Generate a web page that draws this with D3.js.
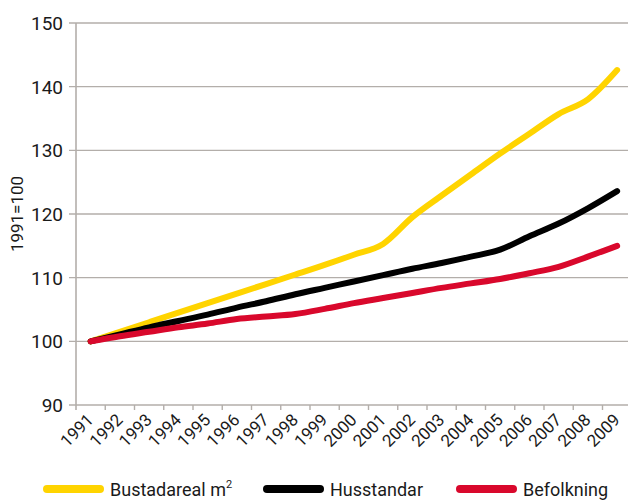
<!DOCTYPE html>
<html>
<head>
<meta charset="utf-8">
<script src="https://cdn.jsdelivr.net/npm/d3@7"></script>
<style>
  body { margin: 0; background: #fff; }
  svg { display: block; font-family: Roboto, "Liberation Sans", sans-serif; }
</style>
</head>
<body>
<svg id="chart" width="628" height="502"></svg>
<script>
const years = [1991, 1992, 1993, 1994, 1995, 1996, 1997, 1998, 1999, 2000,
               2001, 2002, 2003, 2004, 2005, 2006, 2007, 2008, 2009];
const bustadareal = [100, 101.5, 103.0, 104.5, 106.0, 107.5, 109.0, 110.5, 112.0, 113.6,
                     115.3, 119.5, 122.9, 126.2, 129.5, 132.6, 135.7, 138.0, 142.6];
const husstandar = [100, 101.1, 102.2, 103.2, 104.2, 105.3, 106.3, 107.4, 108.4, 109.4,
                    110.4, 111.4, 112.3, 113.3, 114.4, 116.5, 118.5, 120.9, 123.6];
const befolkning = [100, 100.8, 101.5, 102.2, 102.8, 103.5, 103.9, 104.3, 105.1, 106.0,
                    106.8, 107.6, 108.4, 109.1, 109.8, 110.7, 111.7, 113.3, 115.0];
const yTicks = [90, 100, 110, 120, 130, 140, 150];
const seriesNames = ["Bustadareal m", "Husstandar", "Befolkning"];
const colors = ["#ffd400", "#000000", "#d9082c"];

const svg = d3.select("#chart");
const plotLeft = 76, plotTop = 23, plotBottom = 405, band = 29.25;

let x = d3.scaleBand().domain(years).range([plotLeft, plotLeft + band * years.length]);
let y = d3.scaleLinear().domain([90, 150]).range([plotBottom, plotTop]);
const grey = "#b3aeaa";

// Gridlines
yTicks.forEach(t => {
    svg.append("line")
        .attr("x1", plotLeft - 7)
        .attr("x2", 628)
        .attr("y1", y(t))
        .attr("y2", y(t))
        .attr("stroke", grey)
        .attr("stroke-width", 1.4);
    svg.append("text")
        .attr("x", 63)
        .attr("y", y(t) + 7)
        .attr("text-anchor", "end")
        .attr("font-size", "19px")
        .attr("fill", "#1a1a1a")
        .text(t);
});

// y axis line
svg.append("line")
    .attr("x1", plotLeft).attr("x2", plotLeft)
    .attr("y1", plotTop).attr("y2", plotBottom + 5)
    .attr("stroke", grey).attr("stroke-width", 1.6);

// x ticks and labels
years.forEach(yr => {
    svg.append("line")
        .attr("x1", x(yr) + band).attr("x2", x(yr) + band)
        .attr("y1", plotBottom).attr("y2", plotBottom + 5)
        .attr("stroke", grey).attr("stroke-width", 1.4);
    let cx = x(yr) + x.bandwidth() / 2 + 4, cy = 421;
    svg.append("text")
        .attr("transform", `translate(${cx},${cy}) rotate(-45)`)
        .attr("text-anchor", "end")
        .attr("font-size", "17px")
        .attr("fill", "#1a1a1a")
        .text(yr);
});

// y title
svg.append("text")
    .attr("transform", `translate(23,${(plotTop + plotBottom) / 2}) rotate(-90)`)
    .attr("text-anchor", "middle")
    .attr("font-size", "17px")
    .attr("fill", "#1a1a1a")
    .text("1991=100");

// Lines
let line = d3.line()
    .x((d, i) => x(years[i]) + x.bandwidth() / 2)
    .y(d => y(d))
    .curve(d3.curveMonotoneX);

[bustadareal, husstandar, befolkning].forEach((s, k) => {
    svg.append("path")
        .datum(s)
        .attr("fill", "none")
        .attr("stroke", colors[k])
        .attr("stroke-width", 6)
        .attr("stroke-linecap", "round")
        .attr("stroke-linejoin", "round")
        .attr("d", line);
});

// Legend
const legendX = [47, 267, 460];
seriesNames.forEach((name, k) => {
    svg.append("line")
        .attr("x1", legendX[k]).attr("x2", legendX[k] + 53)
        .attr("y1", 489).attr("y2", 489)
        .attr("stroke", colors[k])
        .attr("stroke-width", 8)
        .attr("stroke-linecap", "round");
    let t = svg.append("text")
        .attr("x", legendX[k] + 63)
        .attr("y", 496)
        .attr("font-size", "18px")
        .attr("fill", "#1a1a1a")
        .text(name);
    if (k === 0) {
        t.append("tspan")
            .attr("dy", -8)
            .attr("font-size", "11px")
            .text("2");
    }
});
</script>
</body>
</html>
